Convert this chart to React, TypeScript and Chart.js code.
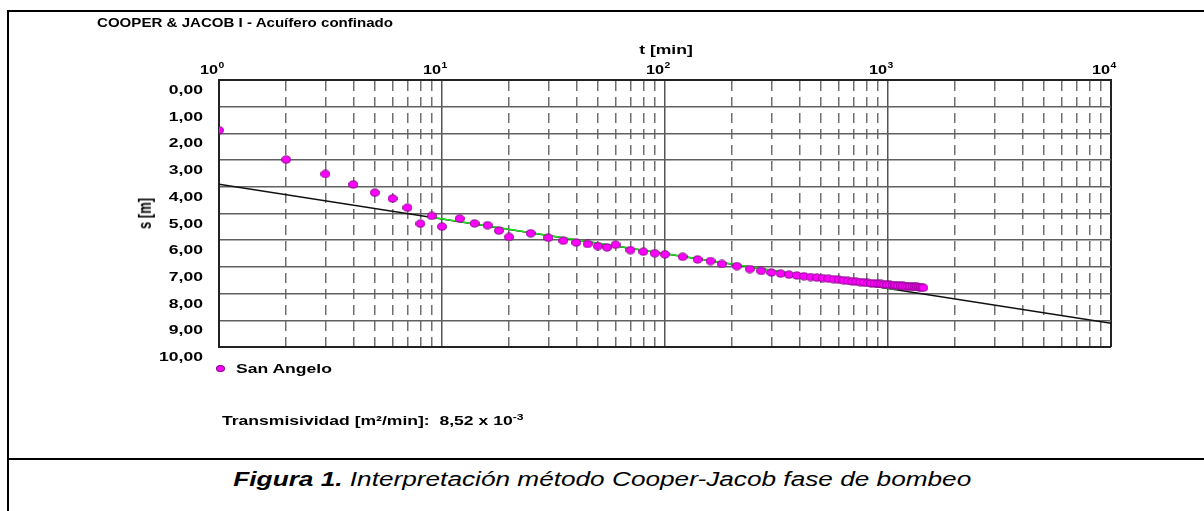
import React, { useEffect, useRef } from 'react';
import { Chart, registerables } from 'chart.js';

Chart.register(...registerables);

// ---------- data ----------
const timeMin = [
  1, 2, 3, 4, 5, 6, 7, 8, 9, 10, 12, 14, 16, 18, 20, 25, 30, 35, 40, 45, 50, 55, 60, 70, 80, 90,
  100, 120, 140, 160, 180, 210, 240, 270, 300, 330, 360, 390, 420, 450, 480, 510, 540, 570, 600,
  630, 660, 690, 720, 750, 780, 810, 840, 870, 900, 930, 960, 990, 1020, 1050, 1080, 1110, 1140,
  1170, 1200, 1230, 1260, 1290, 1320, 1350, 1380, 1410, 1440,
];
const drawdownM = [
  1.88, 2.98, 3.52, 3.91, 4.22, 4.44, 4.78, 5.38, 5.09, 5.49, 5.19, 5.37, 5.44, 5.64, 5.88, 5.74,
  5.91, 6.02, 6.09, 6.14, 6.22, 6.27, 6.17, 6.37, 6.43, 6.49, 6.53, 6.62, 6.72, 6.78, 6.89, 6.97,
  7.08, 7.15, 7.21, 7.25, 7.29, 7.32, 7.35, 7.38, 7.4, 7.42, 7.44, 7.46, 7.48, 7.5, 7.52, 7.54,
  7.55, 7.57, 7.58, 7.6, 7.61, 7.62, 7.63, 7.64, 7.65, 7.66, 7.67, 7.68, 7.69, 7.7, 7.71, 7.71,
  7.72, 7.73, 7.73, 7.74, 7.75, 7.75, 7.76, 7.77, 7.78,
];
const fitLineTime = [1, 10000];
const fitLineDrawdown = [3.9, 9.11];
const fitRangeTime = [9, 1100];
const fitRangeDrawdown = [5.14, 7.86];

const xGridValues = [
  1, 2, 3, 4, 5, 6, 7, 8, 9, 10, 20, 30, 40, 50, 60, 70, 80, 90, 100, 200, 300, 400, 500, 600, 700,
  800, 900, 1000, 2000, 3000, 4000, 5000, 6000, 7000, 8000, 9000, 10000,
];
const xDecadeValues = [1, 10, 100, 1000, 10000];
const xDecadeBase = ['10', '10', '10', '10', '10'];
const xDecadeExponent = ['0', '1', '2', '3', '4'];
const yTickValues = [0, 1, 2, 3, 4, 5, 6, 7, 8, 9, 10];
const yTickLabels = ['0,00', '1,00', '2,00', '3,00', '4,00', '5,00', '6,00', '7,00', '8,00', '9,00', '10,00'];

const seriesName = 'San Angelo';
const chartTitle = 'COOPER & JACOB I - Acuífero confinado';
const xTitle = 't [min]';
const yTitle = 's [m]';
const transLabel = 'Transmisividad [m²/min]:  8,52 x 10';
const transExponent = '-3';
const captionBold = 'Figura 1.';
const captionRest = ' Interpretación método Cooper-Jacob fase de bombeo';

// ---------- style ----------
const FONT = '"Liberation Sans", Arial, sans-serif';
const STRETCH = 1.35;
const MAGENTA = '#ff00ff';
const MAGENTA_EDGE = '#8a008a';

function isDecade(v: number) {
  const l = Math.log10(v);
  return Math.abs(l - Math.round(l)) < 1e-9;
}

function drawStretched(ctx: CanvasRenderingContext2D, text: string, x: number, y: number, align: CanvasTextAlign, sx: number) {
  ctx.save();
  ctx.translate(x, y);
  ctx.scale(sx, 1);
  ctx.textAlign = align;
  ctx.textBaseline = 'alphabetic';
  ctx.fillText(text, 0, 0);
  ctx.restore();
}

const labelPlugin = {
  id: 'axisLabels',
  afterDraw(chart: any) {
    const ctx: CanvasRenderingContext2D = chart.ctx;
    const area = chart.chartArea;
    const xs = chart.scales.x;
    const ys = chart.scales.y;
    ctx.save();
    ctx.fillStyle = '#000';
    ctx.font = `bold 13px ${FONT}`;
    yTickValues.forEach((v, i) => {
      const py = ys.getPixelForValue(v);
      drawStretched(ctx, yTickLabels[i], area.left - 16, py + 14, 'right', STRETCH);
    });
    xDecadeValues.forEach((v, i) => {
      const px = xs.getPixelForValue(v);
      ctx.font = `bold 13px ${FONT}`;
      drawStretched(ctx, xDecadeBase[i], px - 1, area.top - 6, 'right', 1.25);
      ctx.font = `bold 9px ${FONT}`;
      drawStretched(ctx, xDecadeExponent[i], px - 0.5, area.top - 12, 'left', 1.15);
    });
    ctx.restore();
  },
};

export default function App() {
  const canvasRef = useRef<HTMLCanvasElement | null>(null);

  useEffect(() => {
    if (!canvasRef.current) return;
    const dot = document.createElement('canvas');
    dot.width = 10;
    dot.height = 9;
    const dc = dot.getContext('2d')!;
    dc.beginPath();
    dc.ellipse(5, 4.5, 4.4, 3.6, 0, 0, Math.PI * 2);
    dc.fillStyle = MAGENTA;
    dc.fill();
    dc.lineWidth = 1;
    dc.strokeStyle = MAGENTA_EDGE;
    dc.stroke();

    const chart = new Chart(canvasRef.current, {
      type: 'scatter',
      data: {
        datasets: [
          {
            label: seriesName,
            data: timeMin.map((t, i) => ({ x: t, y: drawdownM[i] })),
            pointStyle: dot as any,
            pointRadius: 4,
            showLine: false,
            order: 0,
          },
          {
            label: 'tramo ajustado',
            data: fitRangeTime.map((t, i) => ({ x: t, y: fitRangeDrawdown[i] })),
            showLine: true,
            borderColor: '#22e022',
            borderWidth: 1.5,
            pointRadius: 0,
            order: 1,
          },
          {
            label: 'recta',
            data: fitLineTime.map((t, i) => ({ x: t, y: fitLineDrawdown[i] })),
            showLine: true,
            borderColor: '#111',
            borderWidth: 1.5,
            pointRadius: 0,
            order: 2,
          },
        ],
      },
      options: {
        responsive: false,
        animation: false,
        layout: { padding: { left: 0, top: 0, right: 93, bottom: 113 } },
        plugins: { legend: { display: false }, tooltip: { enabled: false }, title: { display: false } },
        scales: {
          x: {
            type: 'logarithmic',
            position: 'top',
            min: 1,
            max: 10000,
            afterBuildTicks: (s: any) => {
              s.ticks = xGridValues.map((v) => ({ value: v }));
            },
            afterFit: (s: any) => {
              s.height = 80;
            },
            ticks: { display: false, autoSkip: false },
            grid: {
              drawTicks: false,
              color: (c: any) => {
                const v = c.tick ? c.tick.value : 1;
                if (v === 1 || v === 10000) return '#222';
                return isDecade(v) ? '#555' : '#707070';
              },
              lineWidth: (c: any) => {
                const v = c.tick ? c.tick.value : 1;
                if (v === 1 || v === 10000) return 2;
                return 1.5;
              },
            },
            border: {
              display: true,
              color: '#222',
              width: 2,
              dash: (c: any) => {
                const v = c.tick ? c.tick.value : 1;
                return isDecade(v) ? [] : [10, 6];
              },
            },
          },
          y: {
            type: 'linear',
            reverse: true,
            min: 0,
            max: 10,
            afterBuildTicks: (s: any) => {
              s.ticks = yTickValues.map((v) => ({ value: v }));
            },
            afterFit: (s: any) => {
              s.width = 219;
            },
            ticks: { display: false },
            grid: {
              drawTicks: false,
              color: (c: any) => {
                const v = c.tick ? c.tick.value : 0;
                return v === 0 || v === 10 ? '#222' : '#606060';
              },
              lineWidth: (c: any) => {
                const v = c.tick ? c.tick.value : 0;
                return v === 0 || v === 10 ? 2 : 1.5;
              },
            },
            border: { display: true, color: '#222', width: 2 },
          },
        },
      },
      plugins: [labelPlugin],
    } as any);
    return () => chart.destroy();
  }, []);

  const stretchText: React.CSSProperties = {
    position: 'absolute',
    fontFamily: FONT,
    fontWeight: 'bold',
    fontSize: 13,
    lineHeight: '13px',
    whiteSpace: 'pre',
    color: '#000',
    transform: `scaleX(${STRETCH})`,
    transformOrigin: 'left center',
  };

  return (
    <div style={{ position: 'absolute', left: 0, top: 0, width: 1204, height: 511, background: '#fff', overflow: 'hidden' }}>
      <div style={{ position: 'absolute', left: 8, top: 10, width: 1196, height: 2, background: '#000' }} />
      <div style={{ position: 'absolute', left: 7, top: 10, width: 2, height: 501, background: '#000' }} />
      <div style={{ position: 'absolute', left: 8, top: 458, width: 1196, height: 2, background: '#000' }} />

      <canvas
        ref={canvasRef}
        width={1204}
        height={460}
        style={{ position: 'absolute', left: 0, top: 0, width: 1204, height: 460 }}
      />

      <div style={{ ...stretchText, left: 97, top: 16, transform: 'scaleX(1.16)' }}>{chartTitle}</div>
      <div style={{ ...stretchText, left: 566, top: 43, width: 200, textAlign: 'center', transformOrigin: 'center center' }}>{xTitle}</div>
      <div
        style={{
          ...stretchText,
          left: 95,
          top: 207,
          width: 100,
          textAlign: 'center',
          transformOrigin: 'center center',
          transform: `scaleX(${STRETCH}) rotate(-90deg)`,
        }}
      >
        {yTitle}
      </div>

      <div
        style={{
          position: 'absolute',
          left: 215.5,
          top: 364.5,
          width: 9,
          height: 7,
          borderRadius: '50%',
          background: MAGENTA,
          border: `1px solid ${MAGENTA_EDGE}`,
          boxSizing: 'border-box',
        }}
      />
      <div style={{ ...stretchText, left: 236, top: 361.5 }}>{seriesName}</div>

      <div style={{ ...stretchText, left: 222, top: 414 }}>
        {transLabel}
        <span style={{ fontSize: 9, position: 'relative', top: -5 }}>{transExponent}</span>
      </div>

      <div
        style={{
          position: 'absolute',
          left: 0,
          top: 469,
          width: 1204,
          textAlign: 'center',
          fontFamily: FONT,
          fontStyle: 'italic',
          fontSize: 20,
          lineHeight: '20px',
          whiteSpace: 'pre',
          color: '#000',
          transform: 'scaleX(1.31)',
          transformOrigin: '601px center',
        }}
      >
        <span style={{ fontWeight: 'bold' }}>{captionBold}</span>
        {captionRest}
      </div>
    </div>
  );
}
